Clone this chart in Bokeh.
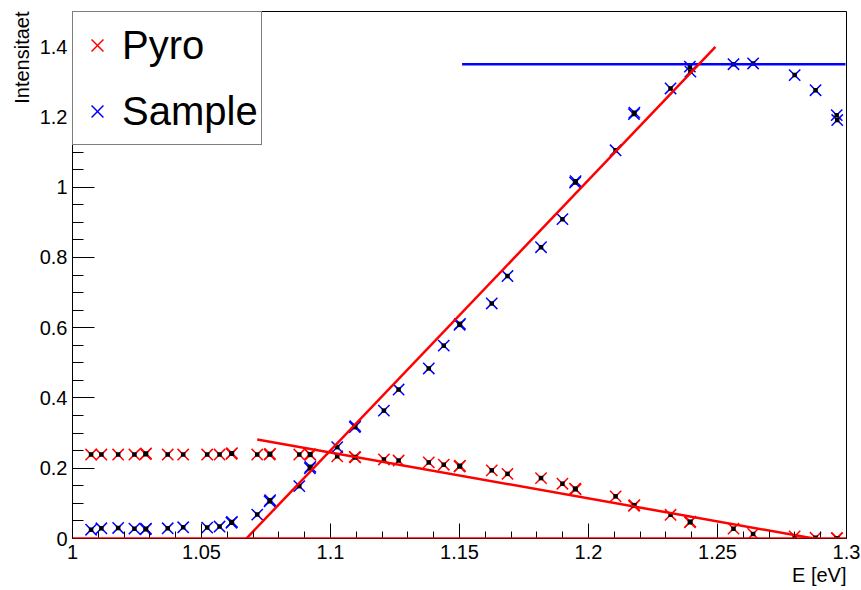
import math
from bokeh.plotting import figure
from bokeh.models import (Range1d, FixedTicker, CustomJSTickFormatter, Title,
                          Span, Legend, LegendItem)
from bokeh.embed import file_html
from bokeh.resources import INLINE

# ---- data ----
energy = [1.0072, 1.0112, 1.0177, 1.0240, 1.0283, 1.0369, 1.0429, 1.0522, 1.0570,
          1.0616, 1.0716, 1.0764, 1.0879, 1.0920, 1.1026, 1.1094, 1.1207, 1.1264,
          1.1381, 1.1439, 1.1500, 1.1625, 1.1686, 1.1816, 1.1899, 1.1948, 1.2105,
          1.2176, 1.2318, 1.2393, 1.2562, 1.2638, 1.2799, 1.2880, 1.2962]
pyro = [0.239, 0.239, 0.239, 0.239, 0.240, 0.239, 0.239, 0.239, 0.239,
        0.241, 0.239, 0.239, 0.239, 0.240, 0.234, 0.232, 0.225, 0.222,
        0.2165, 0.210, 0.205, 0.194, 0.184, 0.172, 0.156, 0.142, 0.120,
        0.093, 0.0675, 0.046, 0.028, 0.013, 0.006, 0.002, 0.001]
sample = [0.025, 0.029, 0.030, 0.028, 0.026, 0.029, 0.032, 0.031, 0.034,
          0.045, 0.068, 0.106, 0.149, 0.200, 0.260, 0.317, 0.364, 0.424,
          0.484, 0.549, 0.608, 0.669, 0.747, 0.829, 0.909, 1.013, 1.105,
          1.208, 1.281, 1.343, 1.350, 1.352, 1.319, 1.276, 1.205]

# repeated measurements (points that appear doubled in the picture)
energy_rep = [1.0285, 1.0618, 1.0766, 1.0922, 1.1096, 1.1502, 1.1950, 1.2178, 1.2395, 1.2964]
pyro_rep = [0.242, 0.243, 0.241, 0.238, 0.231, 0.207, 0.140, 0.095, 0.048, 0.001]
sample_rep = [0.028, 0.047, 0.109, 0.204, 0.320, 0.611, 1.017, 1.212, 1.329, 1.191]

# fit lines (end points)
sample_fit_E = [1.0674, 1.2492]
sample_fit_I = [0.0, 1.399]
pyro_fit_E = [1.0716, 1.2873]
pyro_fit_I = [0.282, 0.0]
plateau_E = [1.151, 1.2996]
plateau_I = [1.35, 1.35]
zero_level = 0.0

# axes
x_ticks = [1.0, 1.05, 1.1, 1.15, 1.2, 1.25, 1.3]
x_tick_labels = ["1", "1.05", "1.1", "1.15", "1.2", "1.25", "1.3"]
x_minor_ticks = [round(1.0 + 0.01 * i, 2) for i in range(31)]
y_ticks = [0.0, 0.2, 0.4, 0.6, 0.8, 1.0, 1.2, 1.4]
y_tick_labels = ["0", "0.2", "0.4", "0.6", "0.8", "1", "1.2", "1.4"]
y_minor_ticks = [round(0.05 * i, 2) for i in range(31)]
x_title = "E [eV]"
y_title = "Intensitaet"

FONT = "Liberation Sans"

p = figure(width=861, height=590,
           x_range=Range1d(1.0, 1.3), y_range=Range1d(0.0, 1.5),
           output_backend="svg", toolbar_location=None,
           min_border_left=72, min_border_right=15,
           min_border_top=11, min_border_bottom=52)
p.background_fill_color = "white"
p.border_fill_color = "white"
p.xgrid.visible = False
p.ygrid.visible = False
p.outline_line_color = "black"
p.outline_line_width = 1
p.outline_line_alpha = 1.0

fmt_code = """
let best = -1;
for (let i = 0; i < tvals.length; i++) {
  if (Math.abs(tvals[i] - tick) < 1e-9) { best = i; }
}
return best >= 0 ? tlabels[best] : "";
"""

xa = p.xaxis[0]
xa.ticker = FixedTicker(ticks=x_ticks, minor_ticks=x_minor_ticks)
xa.formatter = CustomJSTickFormatter(args=dict(tvals=x_ticks, tlabels=x_tick_labels), code=fmt_code)
xa.major_tick_in = 15
xa.major_tick_out = 0
xa.minor_tick_in = 7
xa.minor_tick_out = 0
xa.major_label_standoff = 6

ya = p.yaxis[0]
ya.ticker = FixedTicker(ticks=y_ticks, minor_ticks=y_minor_ticks)
ya.formatter = CustomJSTickFormatter(args=dict(tvals=y_ticks, tlabels=y_tick_labels), code=fmt_code)
ya.major_tick_in = 22
ya.major_tick_out = 0
ya.minor_tick_in = 11
ya.minor_tick_out = 0
ya.major_label_standoff = 5

for ax in (xa, ya):
    ax.axis_line_color = "black"
    ax.major_tick_line_color = "black"
    ax.minor_tick_line_color = "black"
    ax.major_label_text_font = FONT
    ax.major_label_text_font_size = "20px"
    ax.major_label_text_color = "black"

# markers
MS = 16
r_pyro = p.scatter(energy, pyro, marker="x", size=MS, line_color="red", line_width=1.5)
p.scatter(energy_rep, pyro_rep, marker="x", size=MS, line_color="red", line_width=1.5)
r_sample = p.scatter(energy, sample, marker="x", size=MS, line_color="blue", line_width=1.5)
p.scatter(energy_rep, sample_rep, marker="x", size=MS, line_color="blue", line_width=1.5)

p.scatter(energy, pyro, marker="square", size=4.5, fill_color="black", line_color=None)
p.scatter(energy_rep, pyro_rep, marker="square", size=4.5, fill_color="black", line_color=None)
p.scatter(energy, sample, marker="square", size=4.5, fill_color="black", line_color=None)
p.scatter(energy_rep, sample_rep, marker="square", size=4.5, fill_color="black", line_color=None)

# fit lines
p.line(plateau_E, plateau_I, line_color="blue", line_width=2.5)
p.line(sample_fit_E, sample_fit_I, line_color="red", line_width=2.5)
p.line(pyro_fit_E, pyro_fit_I, line_color="red", line_width=2.5)
p.add_layout(Span(location=zero_level, dimension="width", line_color="red", line_width=2.5))

# legend
legend = Legend(items=[LegendItem(label="Pyro", renderers=[r_pyro]),
                       LegendItem(label="Sample", renderers=[r_sample])],
                location="top_left", margin=0, padding=3, spacing=6,
                glyph_width=42, glyph_height=60, label_height=60, label_standoff=4,
                label_text_font=FONT, label_text_font_size="40px",
                label_text_color="black",
                border_line_color="black", border_line_width=1,
                background_fill_color="white", background_fill_alpha=1.0)
p.add_layout(legend)

# axis titles
p.add_layout(Title(text=x_title, align="right", standoff=0, offset=0,
                   text_font=FONT, text_font_size="20px", text_font_style="normal",
                   text_color="black"), "below")
p.add_layout(Title(text=y_title, align="right", standoff=8, offset=0,
                   text_font=FONT, text_font_size="20px", text_font_style="normal",
                   text_color="black"), "left")

open("out.html", "w").write(file_html(p, INLINE))
